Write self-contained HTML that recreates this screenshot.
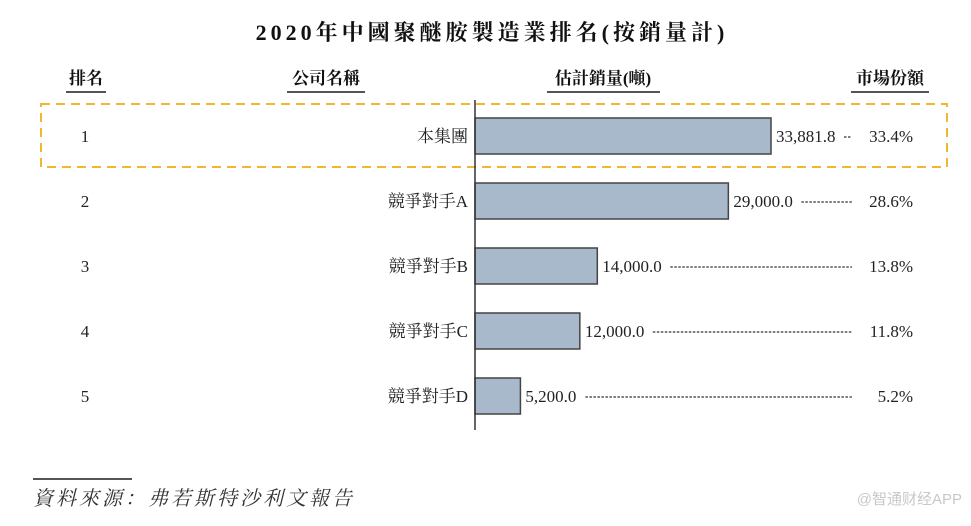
<!DOCTYPE html>
<html><head><meta charset="utf-8"><style>
body{margin:0;background:#fff;width:971px;height:521px;overflow:hidden;font-family:"Liberation Serif","Noto Serif CJK SC",serif;}
svg text{font-family:"Liberation Serif","Noto Serif CJK SC",serif;}
</style></head><body>
<svg width="971" height="521">
<text x="492" y="40" text-anchor="middle" font-size="22" font-weight="bold" letter-spacing="4" fill="#111">2020年中國聚醚胺製造業排名(按銷量計)</text>
<g font-size="17" font-weight="bold" fill="#111">
<text x="86" y="84" text-anchor="middle">排名</text>
<line x1="66" y1="92" x2="106" y2="92" stroke="#555" stroke-width="2"/>
<text x="326" y="84" text-anchor="middle">公司名稱</text>
<line x1="287" y1="92" x2="365" y2="92" stroke="#555" stroke-width="2"/>
<text x="603" y="84" text-anchor="middle">估計銷量(噸)</text>
<line x1="547" y1="92" x2="660" y2="92" stroke="#555" stroke-width="2"/>
<text x="890" y="84" text-anchor="middle">市場份額</text>
<line x1="851" y1="92" x2="929" y2="92" stroke="#555" stroke-width="2"/>
</g>
<rect x="41" y="104" width="906" height="63" fill="none" stroke="#f0b731" stroke-width="2" stroke-dasharray="9,6"/>
<g id="rows"></g>
<line x1="475" y1="100" x2="475" y2="430" stroke="#333" stroke-width="1.5"/>
<line x1="33" y1="479" x2="132" y2="479" stroke="#555" stroke-width="2"/>
<text x="33" y="505" font-size="20" font-style="italic" fill="#333" letter-spacing="3">資料來源：弗若斯特沙利文報告</text>
<text x="962" y="504" text-anchor="end" font-size="15" fill="#c8c8c8" style="font-family:'Liberation Sans','Noto Sans CJK SC',sans-serif">@智通财经APP</text>
</svg>
<script>
const ranks=["1","2","3","4","5"];
const companies=["本集團","競爭對手A","競爭對手B","競爭對手C","競爭對手D"];
const volumes=[33881.8,29000.0,14000.0,12000.0,5200.0];
const shares=["33.4%","28.6%","13.8%","11.8%","5.2%"];
const x0=475, sc=(771-475)/33881.8;
const xs=v=>x0+v*sc;
const ys=i=>136+i*65;
const g=document.getElementById('rows');
const NS='http://www.w3.org/2000/svg';
function mk(t,a,txt){const e=document.createElementNS(NS,t);for(const k in a)e.setAttribute(k,a[k]);if(txt!=null)e.textContent=txt;g.appendChild(e);return e;}
volumes.forEach((v,i)=>{
 const y=ys(i);
 let e=mk('text',{x:85,y:y+6,'text-anchor':'middle','font-size':17,fill:'#222'},ranks[i]);
 
 
 e=mk('text',{x:468,y:y+6,'text-anchor':'end','font-size':17,fill:'#222'},companies[i]);
 
 
 e=mk('rect',{x:x0,y:y-18,width:xs(v)-x0,height:36,fill:'#a8b9cc',stroke:'#444','stroke-width':1.5});
 
 
 const label=v.toLocaleString('en-US',{minimumFractionDigits:1,maximumFractionDigits:1});
 const tx=xs(v)+5;
 e=mk('text',{x:tx,y:y+6,'font-size':17,fill:'#222'},label);
 
 
 const lw=label.length*8;
 e=mk('line',{x1:tx+lw+4,y1:y+1,x2:852,y2:y+1,stroke:'#333','stroke-width':1.2,'stroke-dasharray':'2.5,1.5'});
 
 
 e=mk('text',{x:913,y:y+6,'text-anchor':'end','font-size':17,fill:'#222'},shares[i]);
 
 
});
</script>
</body></html>
